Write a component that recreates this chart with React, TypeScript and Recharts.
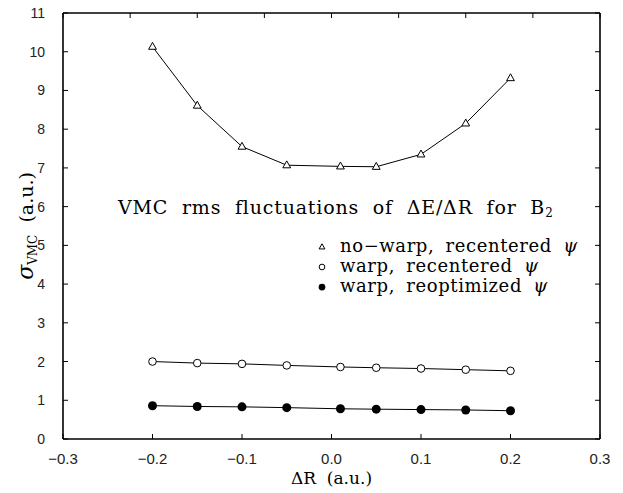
import React from 'react';
import { LineChart, Line, XAxis, YAxis, Legend } from 'recharts';

// sigma of dE/dR (a.u.) vs bond stretch dR (a.u.)
const deltaR = [-0.2, -0.15, -0.1, -0.05, 0.01, 0.05, 0.1, 0.15, 0.2];
const noWarpRecentered = [10.13, 8.61, 7.55, 7.07, 7.04, 7.03, 7.35, 8.15, 9.32];
const warpRecentered = [2.0, 1.96, 1.94, 1.9, 1.86, 1.84, 1.82, 1.79, 1.76];
const warpReoptimized = [0.86, 0.84, 0.83, 0.81, 0.78, 0.77, 0.76, 0.75, 0.73];

const seriesNames = ['no\u2212warp, recentered', 'warp, recentered', 'warp, reoptimized'];

const xTicks = [-0.3, -0.2, -0.1, 0, 0.1, 0.2, 0.3];
const xTicksTop = [-0.3, -0.225, -0.15, -0.075, 0, 0.075, 0.15, 0.225, 0.3];
const yTicks = [0, 1, 2, 3, 4, 5, 6, 7, 8, 9, 10, 11];

const toPoints = (ys: number[]) => deltaR.map((x, i) => ({ x, y: ys[i] }));

const SERIF = '"DejaVu Serif", serif';
const SANS = '"Liberation Sans", Arial, sans-serif';

const drawTriangle = (cx: number, cy: number, key?: string, s = 1) => (
  <path
    key={key}
    d={`M${cx},${cy - 4.3 * s} L${cx + 3.9 * s},${cy + 2.6 * s} L${cx - 3.9 * s},${cy + 2.6 * s} Z`}
    fill="#fff"
    stroke="#000"
    strokeWidth={1}
  />
);
const drawOpen = (cx: number, cy: number, key?: string, s = 1) => (
  <circle key={key} cx={cx} cy={cy} r={3.8 * s} fill="#fff" stroke="#000" strokeWidth={1} />
);
const drawFilled = (cx: number, cy: number, key?: string, s = 1) => (
  <circle key={key} cx={cx} cy={cy} r={4.5 * s} fill="#000" />
);
const markers = [drawTriangle, drawOpen, drawFilled];

const dotFor = (i: number) => (p: any) => {
  if (p.cx == null || p.cy == null) return <g key={`e${i}-${p.index}`} />;
  return markers[i](p.cx, p.cy, `d${i}-${p.index}`);
};

const fmtX = (v: number) => v.toFixed(1).replace('-', '\u2212');

const NoTick = () => <g />;

const YTitle = (props: any) => {
  const vb = props.viewBox || { x: 13, y: 13, width: 50, height: 426 };
  const cx = vb.x + 20;
  const cy = vb.y + vb.height / 2;
  return (
    <text
      transform={`translate(${cx},${cy}) rotate(-90)`}
      textAnchor="middle"
      fontFamily={SERIF}
      fontSize={19}
      fill="#000"
    >
      <tspan fontStyle="italic" fontSize={22}>σ</tspan>
      <tspan fontSize={12} dy={4}>VMC</tspan>
      <tspan dy={-4}>{'\u00a0\u00a0(a.u.)'}</tspan>
    </text>
  );
};

const XTitle = (props: any) => {
  const vb = props.viewBox || { x: 63, y: 439, width: 537, height: 30 };
  return (
    <text x={vb.x + vb.width / 2} y={vb.y + 45} textAnchor="middle" fontFamily={SERIF} fontSize={17} fill="#000">
      {'ΔR\u00a0\u00a0(a.u.)'}
    </text>
  );
};

const legendRows = [252, 272, 292];

const Notes = (props: any) => {
  const payload = (props.payload || []).slice(0, 3);
  return (
    <svg width={623} height={493} style={{ position: 'absolute', left: 0, top: 0, overflow: 'visible' }}>
      <text
        x={118}
        y={214}
        fontFamily={SERIF}
        fontSize={19}
        fill="#000"
        style={{ wordSpacing: 7, letterSpacing: 0.8 }}
      >
        VMC rms fluctuations of ΔE/ΔR for B
        <tspan fontSize={12} dy={3}>2</tspan>
      </text>
      {payload.map((entry: any, i: number) => (
        <g key={entry.value}>
          {markers[i](322, legendRows[i] - 5, undefined, 0.75)}
          <text
            x={340}
            y={legendRows[i]}
            fontFamily={SERIF}
            fontSize={18}
            fill="#000"
            style={{ wordSpacing: 5, letterSpacing: 0.6 }}
          >
            {entry.value} <tspan fontStyle="italic">ψ</tspan>
          </text>
        </g>
      ))}
    </svg>
  );
};

export default function App() {
  const series = [noWarpRecentered, warpRecentered, warpReoptimized];
  return (
    <div style={{ position: 'absolute', left: 0, top: 0, width: 623, height: 493, background: '#fff' }}>
      <LineChart width={623} height={493} margin={{ top: 12, right: 22, bottom: 24, left: 13 }}>
        <XAxis
          type="number"
          dataKey="x"
          domain={[-0.3, 0.3]}
          ticks={xTicks}
          tickFormatter={fmtX}
          allowDataOverflow
          height={30}
          stroke="#000"
          axisLine={{ stroke: '#000', strokeWidth: 1.6 }}
          tickLine={{ stroke: '#000' }}
          tickSize={-5}
          tickMargin={19}
          tick={{ fill: '#222', fontSize: 15, fontFamily: SANS }}
          label={XTitle}
        />
        <XAxis
          xAxisId="top"
          orientation="top"
          type="number"
          dataKey="x"
          domain={[-0.3, 0.3]}
          ticks={xTicksTop}
          allowDataOverflow
          height={1}
          axisLine={{ stroke: '#000', strokeWidth: 1.6 }}
          tickLine={{ stroke: '#000' }}
          tickSize={-5}
          tick={NoTick}
        />
        <YAxis
          type="number"
          domain={[0, 11]}
          ticks={yTicks}
          allowDataOverflow
          width={50}
          axisLine={{ stroke: '#000', strokeWidth: 1.6 }}
          tickLine={{ stroke: '#000' }}
          tickSize={-5}
          tickMargin={23}
          tick={{ fill: '#222', fontSize: 14, fontFamily: SANS }}
          label={YTitle}
        />
        <YAxis
          yAxisId="right"
          orientation="right"
          type="number"
          domain={[0, 11]}
          ticks={yTicks}
          allowDataOverflow
          width={1}
          axisLine={{ stroke: '#000', strokeWidth: 1.6 }}
          tickLine={{ stroke: '#000' }}
          tickSize={-5}
          tick={NoTick}
        />
        {series.map((ys, i) => (
          <Line
            key={seriesNames[i]}
            name={seriesNames[i]}
            data={toPoints(ys)}
            dataKey="y"
            type="linear"
            stroke="#000"
            strokeWidth={1}
            dot={dotFor(i)}
            activeDot={false}
            isAnimationActive={false}
          />
        ))}
        <Legend
          layout="horizontal"
          verticalAlign="middle"
          align="center"
          wrapperStyle={{ left: 0, top: 0, width: 623, height: 493, pointerEvents: 'none' }}
          content={Notes}
        />
      </LineChart>
    </div>
  );
}
